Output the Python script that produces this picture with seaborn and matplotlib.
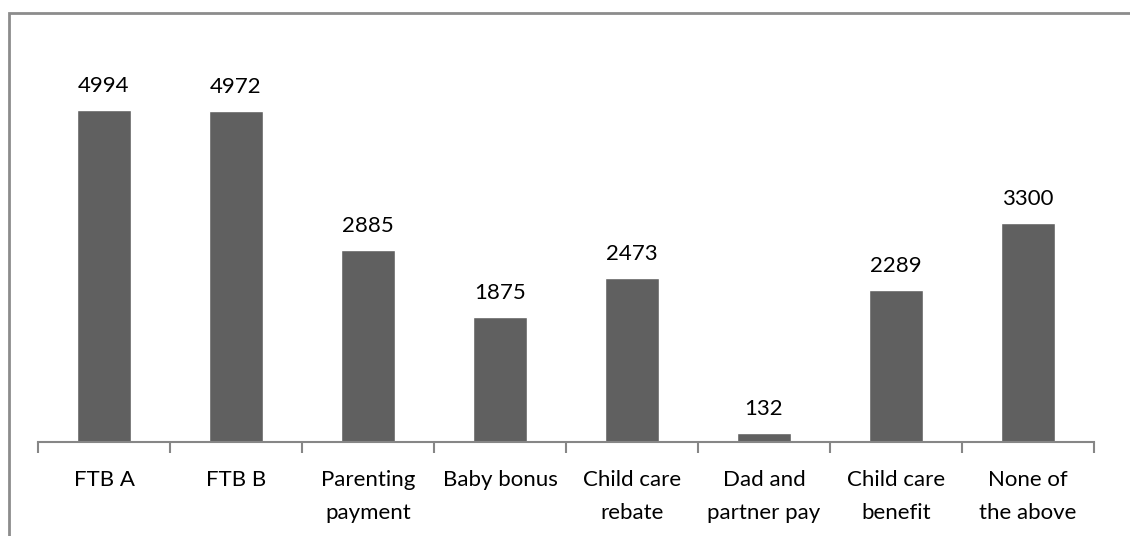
import matplotlib
matplotlib.use("Agg")
import matplotlib.pyplot as plt
import seaborn as sns
import pandas as pd
from matplotlib.patches import Rectangle

categories = ["FTB A", "FTB B", "Parenting\npayment", "Baby bonus", "Child care\nrebate",
              "Dad and\npartner pay", "Child care\nbenefit", "None of\nthe above"]
values = [4994, 4972, 2885, 1875, 2473, 132, 2289, 3300]

df = pd.DataFrame({"category": categories, "count": values})

sns.set_style("white")
plt.rcParams["font.family"] = ["Lato", "DejaVu Sans"]

W, H = 1130, 536
fig = plt.figure(figsize=(W / 100, H / 100), dpi=100)
ax = fig.add_axes([38 / W, (H - 442) / H, (1094 - 38) / W, (442 - 43) / H])

sns.barplot(df, x="category", y="count", color="#606060", saturation=1, width=0.41, ax=ax)
ax.set_ylim(0, 6000)
ax.set_xlim(-0.5, 7.5)

for c in ax.containers:
    ax.bar_label(c, padding=10, fontsize=16, color="black")

for s in ["top", "right", "left"]:
    ax.spines[s].set_visible(False)
ax.spines["bottom"].set_color("#868686")
ax.spines["bottom"].set_linewidth(1.5)
ax.set_yticks([])
ax.set_xlabel(None)
ax.set_ylabel(None)
ax.tick_params(axis="x", which="major", bottom=True, length=0, labelsize=16, pad=20, labelcolor="black")
ax.set_xticks([i - 0.5 for i in range(9)], minor=True)
ax.tick_params(axis="x", which="minor", bottom=True, length=8, width=1.5, color="#868686", direction="out")
for t in ax.get_xticklabels():
    t.set_linespacing(1.8)

fig.patches.append(Rectangle((9 / W, -0.1), 1.2, 1.1 - 13 / H, transform=fig.transFigure,
                             fill=False, edgecolor="#8c8c8c", linewidth=2))

fig.savefig("out.png", dpi=100)
